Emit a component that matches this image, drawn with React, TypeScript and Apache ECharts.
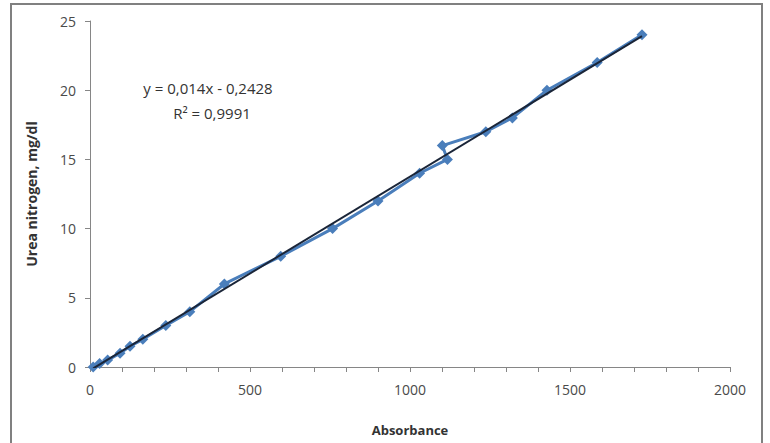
import React, { useEffect, useRef } from "react";
import * as echarts from "echarts";

const absorbance = [10, 30, 55, 94, 125, 165, 237, 312, 420, 596, 758, 900, 1030, 1117, 1101, 1237, 1320, 1428, 1585, 1725];
const ureaNitrogen = [0, 0.25, 0.5, 1, 1.5, 2, 3, 4, 6, 8, 10, 12, 14, 15, 16, 17, 18, 20, 22, 24];
const slope = 0.014;
const intercept = -0.2428;
const equationText = "y = 0,014x - 0,2428";
const r2Text = "R² = 0,9991";
const xTicks = { min: 0, max: 2000, interval: 500 };
const yTicks = { min: 0, max: 25, interval: 5 };

export default function App() {
  const ref = useRef<HTMLDivElement>(null);
  useEffect(() => {
    if (!ref.current) return;
    const chart = echarts.init(ref.current, null, { renderer: "svg" });
    const xs = absorbance;
    const xMin = Math.min(...xs);
    const xMax = Math.max(...xs);
    const trend = [
      [xMin, slope * xMin + intercept],
      [xMax, slope * xMax + intercept],
    ];
    const font = "'Open Sans', 'Liberation Sans', sans-serif";
    chart.setOption({
      animation: false,
      backgroundColor: "#ffffff",
      grid: { left: 90, right: 40, top: 21, bottom: 76 },
      xAxis: {
        type: "value",
        min: xTicks.min,
        max: xTicks.max,
        interval: xTicks.interval,
        name: "Absorbance",
        nameLocation: "middle",
        nameGap: 56,
        nameTextStyle: { fontFamily: font, fontWeight: "bold", fontSize: 13, color: "#333333" },
        axisLine: { show: true, lineStyle: { color: "#868686", width: 1 } },
        axisTick: { show: true, length: 5, lineStyle: { color: "#868686" } },
        minorTick: { show: true, splitNumber: 5, length: 5, lineStyle: { color: "#868686" } },
        splitLine: { show: false },
        axisLabel: { fontFamily: font, fontSize: 14, color: "#4a4a4a", margin: 15, formatter: (v: number) => String(v) },
      },
      yAxis: {
        type: "value",
        min: yTicks.min,
        max: yTicks.max,
        interval: yTicks.interval,
        name: "Urea nitrogen, mg/dl",
        nameLocation: "middle",
        nameGap: 52,
        nameTextStyle: { fontFamily: font, fontWeight: "bold", fontSize: 14, color: "#333333" },
        axisLine: { show: true, lineStyle: { color: "#868686", width: 1 } },
        axisTick: { show: true, length: 5, lineStyle: { color: "#868686" } },
        splitLine: { show: false },
        axisLabel: { fontFamily: font, fontSize: 14, color: "#4a4a4a", margin: 14 },
      },
      series: [
        {
          type: "line",
          data: absorbance.map((x, i) => [x, ureaNitrogen[i]]),
          symbol: "diamond",
          symbolSize: 11,
          itemStyle: { color: "#4a7ebb" },
          lineStyle: { color: "#4a7ebb", width: 3 },
          z: 2,
        },
        {
          type: "line",
          data: trend,
          symbol: "none",
          lineStyle: { color: "#1a2538", width: 2 },
          z: 3,
        },
      ],
      graphic: [
        {
          type: "rect",
          shape: { x: 11, y: 4, width: 751, height: 460 },
          style: { fill: "none", stroke: "#808080", lineWidth: 2 },
          silent: true,
          z: 10,
        },
        {
          type: "text",
          x: 208,
          y: 88,
          style: { text: equationText, fontFamily: font, fontSize: 15, fill: "#333333", textAlign: "center", textVerticalAlign: "middle" },
        },
        {
          type: "text",
          x: 212,
          y: 113,
          style: { text: r2Text, fontFamily: font, fontSize: 15, fill: "#333333", textAlign: "center", textVerticalAlign: "middle" },
        },
      ],
    });
    return () => chart.dispose();
  }, []);
  return <div ref={ref} style={{ position: "fixed", left: 0, top: 0, width: 770, height: 443 }} />;
}
